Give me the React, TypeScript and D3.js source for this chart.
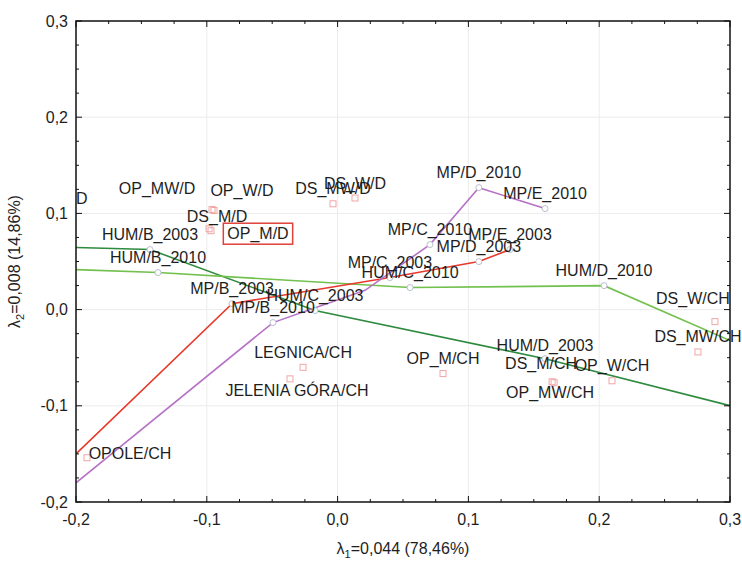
import React, { useRef, useEffect } from 'react';
import * as d3 from 'd3';

const W = 742;
const H = 562;
const margin = { top: 21, right: 12, bottom: 60, left: 76 };

// row points (open squares)
const rowNames = [
  'OP_MW/D', 'OP_W/D', 'DS_M/D', 'OP_M/D', 'DS_MW/D', 'DS_W/D',
  'OPOLE/CH', 'LEGNICA/CH', 'JELENIA GÓRA/CH', 'OP_M/CH', 'DS_M/CH',
  'OP_MW/CH', 'OP_W/CH', 'DS_MW/CH', 'DS_W/CH',
];
const rowDim1 = [
  -0.096, -0.0945, -0.0983, -0.0968, -0.0035, 0.0133,
  -0.1916, -0.0264, -0.0364, 0.0806, 0.164,
  0.1655, 0.2098, 0.2755, 0.2885,
];
const rowDim2 = [
  0.104, 0.103, 0.084, 0.082, 0.110, 0.116,
  -0.154, -0.060, -0.072, -0.0665, -0.075,
  -0.076, -0.074, -0.044, -0.0125,
];

// column trajectories (ends without a name sit on the frame)
const hum2003Names = [null, 'HUM/B_2003', 'HUM/C_2003', 'HUM/D_2003', null];
const hum2003Dim1 = [-0.2, -0.1434, -0.0173, 0.1586, 0.3];
const hum2003Dim2 = [0.0645, 0.0624, -0.001, -0.051, -0.0998];

const hum2010Names = [null, 'HUM/B_2010', 'HUM/C_2010', 'HUM/D_2010', null];
const hum2010Dim1 = [-0.2, -0.1373, 0.0554, 0.2037, 0.3];
const hum2010Dim2 = [0.0416, 0.0385, 0.0229, 0.0249, -0.0322];

const mp2003Names = [null, 'MP/B_2003', 'MP/C_2003', 'MP/D_2003', 'MP/E_2003'];
const mp2003Dim1 = [-0.2, -0.0807, 0.040, 0.108, 0.1318];
const mp2003Dim2 = [-0.150, 0.0062, 0.0333, 0.0499, 0.0624];

const mp2010Names = [null, 'MP/B_2010', null, 'MP/C_2010', 'MP/D_2010', 'MP/E_2010'];
const mp2010Dim1 = [-0.2, -0.0494, 0.021, 0.0706, 0.108, 0.1586];
const mp2010Dim2 = [-0.180, -0.0135, 0.020, 0.0676, 0.1268, 0.105];

const xTicks = [-0.2, -0.1, 0.0, 0.1, 0.2, 0.3];
const yTicks = [-0.2, -0.1, 0.0, 0.1, 0.2, 0.3];

const highlighted = 'OP_M/D';
const edgeLabel = 'D'; // tail of a label whose point lies left of the frame
const edgeLabelDim2 = 0.1154;

const FONT = '"Liberation Sans", Arial, sans-serif';

// label shifts (px) from the default spot centred above the point
const nudge: Record<string, [number, number]> = {
  'OP_MW/D': [-55, -6],
  'OP_W/D': [28, -5],
  'DS_M/D': [8, 3],
  'OP_M/D': [47, 18],
  'JELENIA GÓRA/CH': [7, 27],
  'DS_M/CH': [-11, -3],
  'OP_MW/CH': [-4, 25],
  'DS_W/CH': [-22, -8],
  'OPOLE/CH': [43, 11],
  'HUM/D_2003': [0, 2],
};

const App = () => {
  const ref = useRef<SVGSVGElement>(null);

  useEffect(() => {
    const svg = d3.select(ref.current);
    svg.selectAll('*').remove();

    const x0 = margin.left, x1 = W - margin.right;
    const y0 = margin.top, y1 = H - margin.bottom;

    const x = d3.scaleLinear().domain([-0.2, 0.3]).range([x0, x1]);
    const y = d3.scaleLinear().domain([-0.2, 0.3]).range([y1, y0]);
    const fmt = (v: number) => d3.format('.1f')(v).replace('.', ',').replace('−', '-');

    svg.append('rect').attr('width', W).attr('height', H).attr('fill', '#fff');

    svg.append('clipPath').attr('id', 'plot-clip')
      .append('rect').attr('x', x0).attr('y', y0).attr('width', x1 - x0).attr('height', y1 - y0);

    // faint grid
    const grid = svg.append('g').attr('stroke', '#ececec').attr('stroke-width', 1);
    xTicks.slice(1, -1).forEach(t => {
      grid.append('line').attr('x1', x(t)).attr('x2', x(t)).attr('y1', y0).attr('y2', y1);
    });
    yTicks.slice(1, -1).forEach(t => {
      grid.append('line').attr('y1', y(t)).attr('y2', y(t)).attr('x1', x0).attr('x2', x1);
    });

    // trajectories
    const series = [
      { names: hum2003Names, d1: hum2003Dim1, d2: hum2003Dim2, color: '#2e8a3e' },
      { names: hum2010Names, d1: hum2010Dim1, d2: hum2010Dim2, color: '#72c04e' },
      { names: mp2003Names, d1: mp2003Dim1, d2: mp2003Dim2, color: '#e8392c' },
      { names: mp2010Names, d1: mp2010Dim1, d2: mp2010Dim2, color: '#b673c6' },
    ];
    const line = d3.line<[number, number]>().x(d => x(d[0])).y(d => y(d[1]));
    const lines = svg.append('g').attr('clip-path', 'url(#plot-clip)');
    series.forEach(s => {
      const pts = s.d1.map((v, i) => [v, s.d2[i]] as [number, number]);
      lines.append('path').attr('d', line(pts)).attr('fill', 'none')
        .attr('stroke', s.color).attr('stroke-width', 1.6);
    });

    // column markers
    const labels: { name: string; px: number; py: number }[] = [];
    series.forEach(s => {
      s.names.forEach((n, i) => {
        if (!n) return;
        const px = x(s.d1[i]), py = y(s.d2[i]);
        svg.append('circle').attr('cx', px).attr('cy', py).attr('r', 3)
          .attr('fill', '#fff').attr('stroke', '#b8bfcf').attr('stroke-width', 1);
        labels.push({ name: n, px, py });
      });
    });

    // row markers
    rowNames.forEach((n, i) => {
      const px = x(rowDim1[i]), py = y(rowDim2[i]);
      svg.append('rect').attr('x', px - 3).attr('y', py - 3).attr('width', 6).attr('height', 6)
        .attr('fill', 'none').attr('stroke', '#f2a5a5').attr('stroke-width', 1);
      labels.push({ name: n, px, py });
    });

    // point labels
    const lg = svg.append('g').attr('font-family', FONT).attr('font-size', 16).attr('fill', '#1e1e1e');
    labels.forEach(l => {
      const [dx, dy] = nudge[l.name] || [0, 0];
      const cx = l.px + dx, cy = l.py - 15 + dy;
      const t = lg.append('text').attr('x', cx).attr('y', cy)
        .attr('text-anchor', 'middle').attr('dominant-baseline', 'central').text(l.name);
      if (l.name === highlighted) {
        const b = (t.node() as SVGTextElement).getBBox();
        lg.append('rect').attr('x', b.x - 4).attr('y', b.y - 2)
          .attr('width', b.width + 8).attr('height', b.height + 3)
          .attr('fill', 'none').attr('stroke', '#e0403a').attr('stroke-width', 1.5);
      }
    });
    lg.append('text').attr('x', x0).attr('y', y(edgeLabelDim2))
      .attr('dominant-baseline', 'central').text(edgeLabel);

    // frame and inward ticks
    const frame = svg.append('g').attr('stroke', '#111');
    frame.append('rect').attr('x', x0).attr('y', y0).attr('width', x1 - x0).attr('height', y1 - y0)
      .attr('fill', 'none').attr('stroke-width', 1.5);
    const minor = d3.range(-0.2, 0.3001, 0.025);
    minor.forEach(v => {
      const major = Math.abs(Math.round(v * 10) - v * 10) < 1e-6;
      const len = major ? 6 : 3;
      frame.append('line').attr('x1', x(v)).attr('x2', x(v)).attr('y1', y1).attr('y2', y1 - len);
      frame.append('line').attr('x1', x(v)).attr('x2', x(v)).attr('y1', y0).attr('y2', y0 + len);
      frame.append('line').attr('y1', y(v)).attr('y2', y(v)).attr('x1', x0).attr('x2', x0 + len);
      frame.append('line').attr('y1', y(v)).attr('y2', y(v)).attr('x1', x1).attr('x2', x1 - len);
    });

    // tick labels
    const tg = svg.append('g').attr('font-family', FONT).attr('font-size', 16).attr('fill', '#1e1e1e');
    xTicks.forEach(t => {
      tg.append('text').attr('x', x(t)).attr('y', y1 + 23).attr('text-anchor', 'middle').text(fmt(t));
    });
    yTicks.forEach(t => {
      tg.append('text').attr('x', x0 - 8).attr('y', y(t)).attr('text-anchor', 'end')
        .attr('dominant-baseline', 'central').text(fmt(t));
    });

    // axis titles
    const xt = tg.append('text').attr('x', (x0 + x1) / 2).attr('y', H - 8).attr('text-anchor', 'middle');
    xt.append('tspan').text('λ');
    xt.append('tspan').attr('font-size', 11).attr('dy', 4).text('1');
    xt.append('tspan').attr('dy', -4).text('=0,044 (78,46%)');

    const yt = tg.append('text')
      .attr('transform', `translate(20,${(y0 + y1) / 2}) rotate(-90)`).attr('text-anchor', 'middle');
    yt.append('tspan').text('λ');
    yt.append('tspan').attr('font-size', 11).attr('dy', 4).text('2');
    yt.append('tspan').attr('dy', -4).text('=0,008 (14,86%)');
  }, []);

  return (
    <svg ref={ref} width={W} height={H}
      style={{ position: 'absolute', left: 0, top: 0, background: '#fff' }} />
  );
};

export default App;
